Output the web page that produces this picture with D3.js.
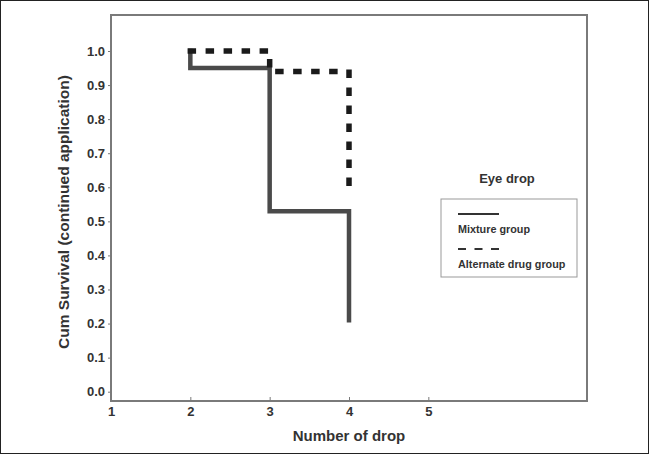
<!DOCTYPE html>
<meta charset="utf-8">
<html>
<head>
  <script src="https://d3js.org/d3.v7.min.js"></script>
  <style>
    html, body { margin: 0; padding: 0; background: #fff; }
    text { font-family: "Liberation Sans", Arial, sans-serif; font-weight: bold; fill: #333; }
  </style>
</head>
<body>
  <svg id="svg" width="649" height="454"></svg>
  <script>
    // data
    const xTicks = [1, 2, 3, 4, 5];
    const yTicks = [0, 0.1, 0.2, 0.3, 0.4, 0.5, 0.6, 0.7, 0.8, 0.9, 1.0];
    const groups = ["Mixture group", "Alternate drug group"];
    const mixtureTimes = [2, 3, 4];
    const mixtureSurv = [0.95, 0.53, 0.21];
    const alternateTimes = [2, 3, 4];
    const alternateSurv = [1.0, 0.94, 0.61];

    const width = 649, height = 454;
    const svg = d3.select("#svg");

    const x = d3.scaleLinear().domain([1, 7]).range([111, 587]);
    const y = d3.scaleLinear().domain([0, 1]).range([391.7, 51]);
    const frameTop = 15, frameBottom = 401;

    // outer border
    svg.append("rect")
      .attr("x", 0.5).attr("y", 0.5)
      .attr("width", width - 1).attr("height", height - 1)
      .attr("fill", "none").attr("stroke", "#222").attr("stroke-width", 1);

    // plot frame
    svg.append("rect")
      .attr("x", x(1)).attr("y", frameTop)
      .attr("width", x(7) - x(1)).attr("height", frameBottom - frameTop)
      .attr("fill", "none").attr("stroke", "#7a7a7a").attr("stroke-width", 2);

    // y axis
    let yAxis = svg.append("g")
      .attr("transform", `translate(${x(1)},0)`)
      .call(d3.axisLeft(y).tickValues(yTicks).tickFormat(d3.format(".1f")).tickSize(3).tickPadding(3));
    yAxis.select(".domain").remove();
    yAxis.selectAll("line").attr("stroke", "#7a7a7a");
    yAxis.selectAll("text").attr("font-size", 13).attr("fill", "#333")
      .attr("font-family", null);

    // x axis
    let xAxis = svg.append("g")
      .attr("transform", `translate(0,${frameBottom})`)
      .call(d3.axisBottom(x).tickValues(xTicks).tickFormat(d3.format("d")).tickSizeInner(-4).tickSizeOuter(0).tickPadding(6));
    xAxis.select(".domain").remove();
    xAxis.selectAll("line").attr("stroke", "#7a7a7a");
    xAxis.selectAll("text").attr("font-size", 13).attr("fill", "#333")
      .attr("font-family", null);

    // axis titles
    svg.append("text")
      .attr("x", 349).attr("y", 441)
      .attr("text-anchor", "middle").attr("font-size", 15)
      .text("Number of drop");

    svg.append("text")
      .attr("transform", "translate(69,212) rotate(-90)")
      .attr("text-anchor", "middle").attr("font-size", 15.5)
      .text("Cum Survival (continued application)");

    // survival steps
    function steps(times, surv) {
      let pts = [[times[0], 1.0]];
      times.forEach((t, i) => {
        if (i > 0) pts.push([t, surv[i - 1]]);
        pts.push([t, surv[i]]);
      });
      return pts;
    }
    const line = d3.line().x(d => x(d[0])).y(d => y(d[1]));

    svg.append("path")
      .datum(steps(mixtureTimes, mixtureSurv))
      .attr("d", line)
      .attr("fill", "none").attr("stroke", "#4a4a4a").attr("stroke-width", 4.5)
      .attr("stroke-linecap", "square");

    svg.append("path")
      .datum(steps(alternateTimes, alternateSurv))
      .attr("d", line)
      .attr("fill", "none").attr("stroke", "#1a1a1a").attr("stroke-width", 5.5)
      .attr("stroke-linecap", "square")
      .attr("stroke-dasharray", "3,15");

    // legend
    svg.append("text")
      .attr("x", 507).attr("y", 183)
      .attr("text-anchor", "middle").attr("font-size", 13)
      .text("Eye drop");

    svg.append("rect")
      .attr("x", 441).attr("y", 199)
      .attr("width", 136).attr("height", 78)
      .attr("fill", "#fff").attr("stroke", "#999").attr("stroke-width", 1);

    const legend = svg.append("g").selectAll("g")
      .data(groups).enter().append("g")
      .attr("transform", (d, i) => `translate(458,${214 + i * 35})`);
    legend.append("line")
      .attr("x1", 0).attr("x2", 41)
      .attr("stroke", "#333").attr("stroke-width", 2)
      .attr("stroke-dasharray", (d, i) => i === 0 ? null : "8,8.5");
    legend.append("text")
      .attr("x", 0).attr("y", 19)
      .attr("font-size", 10.8)
      .text(d => d);
  </script>
</body>
</html>
